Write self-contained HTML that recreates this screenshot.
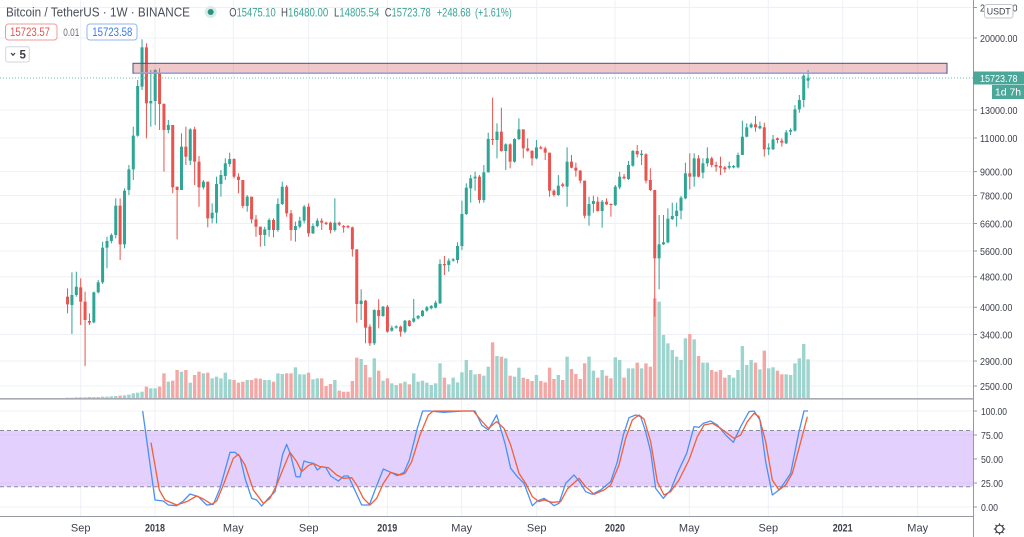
<!DOCTYPE html>
<html><head><meta charset="utf-8">
<style>
html,body{margin:0;padding:0;background:#fff;width:1024px;height:537px;overflow:hidden}
svg{display:block;font-family:"Liberation Sans",sans-serif}
</style></head><body>
<svg id="s" width="1024" height="537" viewBox="0 0 1024 537" xmlns="http://www.w3.org/2000/svg">
<rect x="0" y="0" width="1024" height="537" fill="#ffffff"/>
<!-- grid -->
<g stroke="#edf0f5" stroke-width="1">
<line x1="80.7" y1="0" x2="80.7" y2="516"/><line x1="155" y1="0" x2="155" y2="516"/><line x1="233.3" y1="0" x2="233.3" y2="516"/><line x1="308.7" y1="0" x2="308.7" y2="516"/><line x1="387.3" y1="0" x2="387.3" y2="516"/><line x1="461.7" y1="0" x2="461.7" y2="516"/><line x1="536.7" y1="0" x2="536.7" y2="516"/><line x1="615" y1="0" x2="615" y2="516"/><line x1="689.3" y1="0" x2="689.3" y2="516"/><line x1="768.3" y1="0" x2="768.3" y2="516"/><line x1="842.7" y1="0" x2="842.7" y2="516"/><line x1="917.7" y1="0" x2="917.7" y2="516"/>
<line x1="0" y1="7.5" x2="973" y2="7.5"/><line x1="0" y1="38" x2="973" y2="38"/><line x1="0" y1="110" x2="973" y2="110"/><line x1="0" y1="138" x2="973" y2="138"/><line x1="0" y1="171.6" x2="973" y2="171.6"/><line x1="0" y1="195.5" x2="973" y2="195.5"/><line x1="0" y1="223.5" x2="973" y2="223.5"/><line x1="0" y1="251" x2="973" y2="251"/><line x1="0" y1="276.8" x2="973" y2="276.8"/><line x1="0" y1="307.3" x2="973" y2="307.3"/><line x1="0" y1="334.5" x2="973" y2="334.5"/><line x1="0" y1="361" x2="973" y2="361"/><line x1="0" y1="386" x2="973" y2="386"/>
<line x1="0" y1="411" x2="973" y2="411"/><line x1="0" y1="459" x2="973" y2="459"/><line x1="0" y1="507" x2="973" y2="507"/>
</g>
<!-- stoch band -->
<rect x="0" y="430.5" width="973" height="56.2" fill="#e4d0fc"/>
<line x1="0" y1="435" x2="973" y2="435" stroke="#dcc6f7" stroke-width="1"/>
<line x1="0" y1="483" x2="973" y2="483" stroke="#dcc6f7" stroke-width="1"/>
<line x1="0" y1="430.5" x2="973" y2="430.5" stroke="#8b8c99" stroke-width="1" stroke-dasharray="4,3"/>
<line x1="0" y1="486.7" x2="973" y2="486.7" stroke="#8b8c99" stroke-width="1" stroke-dasharray="4,3"/>
<g id="vol"></g>
<g id="cnd"></g>
<!-- zone rectangle -->
<rect x="133" y="63.3" width="814" height="10" fill="rgba(215,105,110,0.37)" stroke="#4a4d8f" stroke-width="1"/>
<line x1="133.5" y1="73" x2="946.5" y2="73" stroke="#a8a5d6" stroke-width="1.5"/>
<!-- current price dotted line -->
<line x1="0" y1="78" x2="973" y2="78" stroke="#6fbfb6" stroke-width="1" stroke-dasharray="1,2"/>
<!-- stoch lines -->
<g transform="translate(0,395) scale(0.333333)" fill="none" stroke-linejoin="round">
<polyline vector-effect="non-scaling-stroke" stroke="#4a90f5" stroke-width="1.3" points="428,48 465,315 490,318 505,330 530,332 550,318 570,297 595,305 620,330 640,328 660,280 690,172 705,172 720,185 735,250 755,310 770,315 785,333 805,310 825,290 848,178 860,148 872,180 888,245 900,246 912,198 925,202 940,205 952,225 965,215 978,218 992,243 1015,258 1032,243 1045,243 1062,280 1085,330 1108,330 1125,285 1150,222 1168,230 1192,242 1212,232 1228,195 1252,100 1268,48 1290,48 1330,52 1390,48 1425,48 1445,90 1465,105 1490,60 1515,145 1532,220 1552,245 1572,265 1597,332 1612,318 1632,310 1647,320 1662,332 1677,325 1697,265 1722,240 1740,262 1757,290 1777,298 1802,285 1832,260 1852,200 1870,120 1887,68 1907,60 1922,65 1937,110 1952,170 1967,280 1990,310 2012,285 2032,235 2060,175 2082,95 2097,97 2110,85 2132,78 2152,90 2177,120 2200,142 2222,95 2247,50 2262,48 2280,75 2297,200 2317,300 2337,285 2352,265 2372,235 2397,110 2412,48 2424,48"/>
<polyline vector-effect="non-scaling-stroke" stroke="#f0603a" stroke-width="1.3" points="453,143 478,285 495,315 530,330 560,320 590,303 610,312 635,328 650,318 670,270 700,190 715,178 735,210 760,285 790,325 810,310 830,270 850,220 870,172 890,200 905,230 925,212 940,205 960,215 985,218 1010,240 1030,250 1055,248 1070,270 1090,310 1110,330 1130,310 1150,265 1172,232 1200,240 1215,235 1235,200 1260,120 1285,60 1300,48 1420,48 1445,78 1465,100 1490,80 1512,100 1532,150 1557,235 1577,265 1597,305 1617,320 1632,315 1657,322 1682,320 1702,282 1737,250 1757,275 1782,298 1812,285 1832,270 1857,210 1877,130 1897,75 1917,60 1932,72 1952,140 1972,260 1992,300 2012,290 2037,255 2067,195 2092,125 2112,90 2137,85 2162,100 2182,115 2202,130 2222,120 2242,80 2262,55 2277,65 2297,140 2317,255 2337,285 2357,270 2377,235 2397,160 2422,65"/>
</g>
<!-- pane separators and axes -->
<line x1="0" y1="398.8" x2="973" y2="398.8" stroke="#a7aab2" stroke-width="1.6"/>
<line x1="0" y1="516.5" x2="973" y2="516.5" stroke="#9598a1" stroke-width="1"/>
<line x1="973.5" y1="0" x2="973.5" y2="537" stroke="#9598a1" stroke-width="1"/>
<!-- price axis ticks -->
<g stroke="#9598a1" stroke-width="1">
<line x1="973" y1="7.5" x2="977" y2="7.5"/><line x1="973" y1="38" x2="977" y2="38"/><line x1="973" y1="110" x2="977" y2="110"/><line x1="973" y1="138" x2="977" y2="138"/><line x1="973" y1="171.6" x2="977" y2="171.6"/><line x1="973" y1="195.5" x2="977" y2="195.5"/><line x1="973" y1="223.5" x2="977" y2="223.5"/><line x1="973" y1="251" x2="977" y2="251"/><line x1="973" y1="276.8" x2="977" y2="276.8"/><line x1="973" y1="307.3" x2="977" y2="307.3"/><line x1="973" y1="334.5" x2="977" y2="334.5"/><line x1="973" y1="361" x2="977" y2="361"/><line x1="973" y1="386" x2="977" y2="386"/>
<line x1="973" y1="411" x2="977" y2="411"/><line x1="973" y1="435" x2="977" y2="435"/><line x1="973" y1="459" x2="977" y2="459"/><line x1="973" y1="483" x2="977" y2="483"/><line x1="973" y1="507" x2="977" y2="507"/>
</g>
<g font-size="10.5" fill="#3b3f4a">
<text x="980" y="11.3" textLength="37.5" lengthAdjust="spacingAndGlyphs">24000.00</text>
<text x="980" y="41.8" textLength="37.5" lengthAdjust="spacingAndGlyphs">20000.00</text>
<text x="980" y="113.8" textLength="37.5" lengthAdjust="spacingAndGlyphs">13000.00</text>
<text x="980" y="141.8" textLength="37.5" lengthAdjust="spacingAndGlyphs">11000.00</text>
<text x="980" y="175.4" textLength="32.3" lengthAdjust="spacingAndGlyphs">9000.00</text>
<text x="980" y="199.3" textLength="32.3" lengthAdjust="spacingAndGlyphs">7800.00</text>
<text x="980" y="227.3" textLength="32.3" lengthAdjust="spacingAndGlyphs">6600.00</text>
<text x="980" y="254.8" textLength="32.3" lengthAdjust="spacingAndGlyphs">5600.00</text>
<text x="980" y="280.6" textLength="32.3" lengthAdjust="spacingAndGlyphs">4800.00</text>
<text x="980" y="311.1" textLength="32.3" lengthAdjust="spacingAndGlyphs">4000.00</text>
<text x="980" y="338.3" textLength="32.3" lengthAdjust="spacingAndGlyphs">3400.00</text>
<text x="980" y="364.8" textLength="32.3" lengthAdjust="spacingAndGlyphs">2900.00</text>
<text x="980" y="389.8" textLength="32.3" lengthAdjust="spacingAndGlyphs">2500.00</text>
<text x="981" y="414.8" textLength="26" lengthAdjust="spacingAndGlyphs">100.00</text>
<text x="981" y="438.8" textLength="22" lengthAdjust="spacingAndGlyphs">75.00</text>
<text x="981" y="462.8" textLength="22" lengthAdjust="spacingAndGlyphs">50.00</text>
<text x="981" y="486.8" textLength="22" lengthAdjust="spacingAndGlyphs">25.00</text>
<text x="981" y="510.8" textLength="17" lengthAdjust="spacingAndGlyphs">0.00</text>
</g>
<!-- USDT box -->
<rect x="984.5" y="4.5" width="28.5" height="13.5" rx="2.5" fill="#ffffff" stroke="#c3c6ce" stroke-width="1"/>
<text x="998.7" y="14.6" font-size="8.8" fill="#3b3f4a" text-anchor="middle">USDT</text>
<!-- current price label -->
<rect x="973" y="71.5" width="51" height="13" fill="#4aa79a"/>
<text x="980" y="81.8" font-size="10.5" fill="#ffffff" textLength="37.5" lengthAdjust="spacingAndGlyphs">15723.78</text>
<rect x="992" y="85" width="32" height="14" fill="#4aa79a"/>
<text x="1008" y="95.6" font-size="10.5" fill="#ffffff" text-anchor="middle">1d 7h</text>
<!-- time axis labels -->
<g font-size="11" fill="#3b3f4a" text-anchor="middle">
<text x="80.7" y="531.5">Sep</text>
<text x="155" y="531.5" font-weight="bold" textLength="20" lengthAdjust="spacingAndGlyphs">2018</text>
<text x="233.3" y="531.5">May</text>
<text x="308.7" y="531.5">Sep</text>
<text x="387.3" y="531.5" font-weight="bold" textLength="20" lengthAdjust="spacingAndGlyphs">2019</text>
<text x="461.7" y="531.5">May</text>
<text x="536.7" y="531.5">Sep</text>
<text x="615" y="531.5" font-weight="bold" textLength="20" lengthAdjust="spacingAndGlyphs">2020</text>
<text x="689.3" y="531.5">May</text>
<text x="768.3" y="531.5">Sep</text>
<text x="842.7" y="531.5" font-weight="bold" textLength="20" lengthAdjust="spacingAndGlyphs">2021</text>
<text x="917.7" y="531.5">May</text>
</g>
<!-- gear -->
<g stroke="#3b3f4a" stroke-width="1.2" fill="none">
<circle cx="999.5" cy="529" r="3.8"/>
<line x1="999.5" y1="523.3" x2="999.5" y2="525"/><line x1="999.5" y1="533" x2="999.5" y2="534.7"/>
<line x1="993.8" y1="529" x2="995.5" y2="529"/><line x1="1003.5" y1="529" x2="1005.2" y2="529"/>
<line x1="995.5" y1="525" x2="996.7" y2="526.2"/><line x1="1002.3" y1="531.8" x2="1003.5" y2="533"/>
<line x1="1003.5" y1="525" x2="1002.3" y2="526.2"/><line x1="996.7" y1="531.8" x2="995.5" y2="533"/>
</g>
<!-- header legend -->
<text x="6" y="16.5" font-size="13" fill="#4a4e5a" textLength="184" lengthAdjust="spacingAndGlyphs">Bitcoin / TetherUS · 1W · BINANCE</text>
<circle cx="210.7" cy="12" r="6" fill="#d6ece9"/>
<circle cx="210.7" cy="12" r="3" fill="#2e8f83"/>
<g font-size="12">
<text x="229.3" y="16.3" fill="#3aa393" textLength="46.4" lengthAdjust="spacingAndGlyphs"><tspan fill="#4a4e5a">O</tspan>15475.10</text>
<text x="281" y="16.3" fill="#3aa393" textLength="47.3" lengthAdjust="spacingAndGlyphs"><tspan fill="#4a4e5a">H</tspan>16480.00</text>
<text x="334" y="16.3" fill="#3aa393" textLength="45.3" lengthAdjust="spacingAndGlyphs"><tspan fill="#4a4e5a">L</tspan>14805.54</text>
<text x="384.7" y="16.3" fill="#3aa393" textLength="46" lengthAdjust="spacingAndGlyphs"><tspan fill="#4a4e5a">C</tspan>15723.78</text>
<text x="436.7" y="16.3" fill="#3aa393" textLength="34" lengthAdjust="spacingAndGlyphs">+248.68</text>
<text x="475" y="16.3" fill="#3aa393" textLength="36.7" lengthAdjust="spacingAndGlyphs">(+1.61%)</text>
</g>
<rect x="5.5" y="24" width="51.5" height="16" rx="3" fill="#ffffff" stroke="#f19b98" stroke-width="1"/>
<text x="10" y="36.2" font-size="11.5" fill="#e5534f" textLength="40" lengthAdjust="spacingAndGlyphs">15723.57</text>
<text x="63.3" y="36.2" font-size="11" fill="#6a6d78" textLength="16" lengthAdjust="spacingAndGlyphs">0.01</text>
<rect x="87" y="24" width="50" height="16" rx="3" fill="#ffffff" stroke="#8fb6f5" stroke-width="1"/>
<text x="92.3" y="36.2" font-size="11.5" fill="#3a78e6" textLength="40" lengthAdjust="spacingAndGlyphs">15723.58</text>
<rect x="5.7" y="46.7" width="23.6" height="15.3" rx="2" fill="#ffffff" stroke="#d4d6dc" stroke-width="1"/>
<polyline points="11,53 13,55.2 15,53" fill="none" stroke="#3b3f4a" stroke-width="1.2"/>
<text x="19.5" y="58.6" font-size="11.5" fill="#3b3f4a" font-weight="bold">5</text>
</svg>
<script>
(function(){
var C=[
[0,800,823,775,850],[1,795,825,727,912],[1,770,795,725,800],[0,772,815,745,885],[0,815,870,785,1008],
[0,873,878,850,885],[1,787,877,785,880],[1,757,787,750,790],[1,653,757,635,762],[1,633,653,620,715],
[1,615,633,610,640],[1,527,615,505,625],[0,527,643,505,690],[1,482,643,475,655],[1,418,480,405,495],
[1,317,418,290,450],[1,168,317,150,320],[1,52,170,28,180],[0,52,220,40,325],[1,213,220,120,290],
[1,120,213,118,285],[0,128,222,115,300],[0,222,300,220,425],[1,285,300,270,310],[0,285,472,285,490],
[0,470,480,470,628],[1,350,480,310,480],[0,350,380,290,405],[1,298,392,295,405],[0,298,395,290,465],
[0,395,472,378,530],[1,455,472,450,478],[0,455,565,455,592],[1,548,565,520,580],[1,462,548,440,580],
[1,435,462,420,500],[1,400,438,385,450],[1,387,402,368,410],[0,387,440,385,445],[0,440,450,430,490],
[0,450,528,450,535],[1,500,528,495,545],[0,500,568,500,580],[0,568,590,555,620],[0,590,615,590,650],
[1,598,615,590,648],[1,570,600,565,620],[0,570,600,565,622],[1,522,600,505,605],[1,470,522,455,525],
[0,470,550,465,560],[0,550,600,540,632],[1,588,600,575,635],[1,572,590,560,595],[1,530,572,525,580],
[0,530,610,520,620],[1,588,610,580,612],[1,572,588,565,592],[0,572,578,565,600],[0,578,582,575,585],
[0,578,600,575,610],[1,578,600,505,605],[0,578,584,575,588],[0,588,592,585,608],[0,588,592,585,595],
[0,592,658,590,680],[0,658,822,658,878],[1,812,822,778,870],[0,812,893,810,940],[0,890,940,883,948],
[1,840,940,838,945],[0,840,858,808,895],[1,830,858,828,860],[0,830,905,825,908],[1,893,902,887,905],
[1,889,893,886,896],[0,890,905,887,920],[1,872,905,870,910],[0,872,888,870,890],[1,865,875,807,878],
[1,858,865,855,868],[1,842,858,840,860],[1,832,842,828,845],[1,828,835,825,838],[1,818,833,812,835],
[1,702,820,688,822],[0,702,706,678,735],[1,692,705,685,725],[1,688,692,684,695],[1,648,690,637,700],
[1,552,648,512,660],[1,473,552,460,555],[1,445,475,435,518],[1,440,445,425,482],[0,440,510,435,520],
[1,427,510,405,518],[1,327,427,308,428],[0,327,330,203,345],[1,305,330,280,385],[0,305,363,233,365],
[1,343,363,340,420],[0,343,395,340,415],[1,327,395,325,398],[1,298,327,265,330],[0,298,355,298,385],
[0,355,362,325,365],[0,363,385,360,407],[1,352,385,330,388],[0,352,356,347,358],[0,355,368,350,390],
[0,368,482,368,500],[0,482,495,478,500],[1,467,495,435,498],[0,463,468,458,472],[1,395,470,352,530],
[0,395,413,375,415],[0,413,422,398,440],[0,422,452,420,460],[0,452,557,452,565],[1,522,557,500,587],
[1,513,522,497,548],[0,515,543,500,545],[1,515,543,510,593],[0,515,523,505,525],[0,522,525,520,560],
[1,470,525,465,528],[1,440,472,425,478],[0,440,445,432,448],[1,405,447,393,450],[1,363,407,360,410],
[0,363,373,345,382],[1,371,375,360,405],[0,373,452,370,460],[0,450,480,415,483],[0,480,685,480,860],
[1,643,685,555,778],[1,637,643,555,645],[1,566,637,535,640],[1,558,567,518,570],[1,542,558,518,590],
[1,503,542,498,568],[1,430,505,398,508],[0,430,440,370,478],[1,385,440,370,470],[0,385,440,375,442],
[1,400,428,385,445],[1,385,400,352,410],[0,385,405,380,412],[0,405,410,395,425],[0,408,413,380,435],
[0,412,418,408,428],[1,408,413,395,418],[1,408,412,405,415],[1,375,412,368,415],[1,320,375,272,375],
[1,292,320,280,322],[1,283,292,278,295],[0,283,292,258,305],[1,288,295,275,298],[0,292,358,278,380],
[1,353,358,340,375],[1,328,358,315,360],[0,325,330,322,340],[0,332,338,325,350],[1,307,340,300,342],
[1,300,305,295,315],[1,238,302,225,305],[1,210,238,195,248],[1,137,210,133,232],[1,143,152,120,175]];
var V=[1103,1103,1102,1102,1102,1101,1101,1101,1100,1100,1099,1098,1097,
1096,1094,1090,1088,1085,
1070,1075,1075,1070,1030,1055,1052,1020,1025,1020,1058,1035,1025,1030,1028,1045,1040,1045,1028,1048,1050,1058,1055,1050,1050,1045,1046,1050,1050,1055,1030,1032,1030,1030,1012,1033,1033,1028,1048,1045,1045,1068,1062,1050,1082,
1085,1085,1053,983,987,1005,1042,985,1022,1052,1045,1060,1065,1060,1055,1063,1030,1055,1052,1058,1065,1060,1000,1043,1063,1043,1057,1027,990,1020,1033,1032,1037,1010,937,978,980,985,1037,1040,1013,1043,1047,1053,1035,1053,1057,1013,1047,1035,1050,980,1017,1032,1047,1000,980,1022,1043,1020,1037,1045,982,990,1043,1015,1015,998,1015,1000,1010,805,815,915,940,
960,980,990,925,912,928,978,998,998,1020,1025,1020,1043,1035,1043,1020,948,1005,990,998,1018,962,1015,1012,1022,1033,1033,1035,1000,985,942,988];
var NS="http://www.w3.org/2000/svg";
var gv=document.getElementById("vol"),gc=document.getElementById("cnd");
function R(g,x,y,w,h,f){var r=document.createElementNS(NS,"rect");r.setAttribute("x",x.toFixed(2));r.setAttribute("y",y.toFixed(2));r.setAttribute("width",w);r.setAttribute("height",Math.max(h,1).toFixed(2));r.setAttribute("fill",f);g.appendChild(r);}
for(var i=0;i<C.length;i++){
 var x=67.55+4.382*i,c=C[i];
 var up=c[0]===1;
 if(i<V.length){var vt=30+V[i]/3;R(gv,x-1.7,vt,3.4,398-vt,up?"#9dd5ce":"#f4a8a5");}
 var col=up?"#2fa596":"#e9544f";
 var wt=30+c[3]/3,wb=30+c[4]/3,bt=30+c[1]/3,bb=30+c[2]/3;
 R(gc,x-0.5,wt,1,wb-wt,col);
 R(gc,x-1.5,bt,3,bb-bt,col);
}
})();
</script>
</body></html>
